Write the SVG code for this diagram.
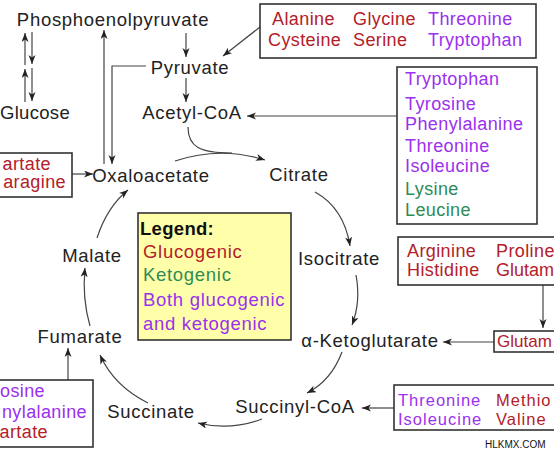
<svg xmlns="http://www.w3.org/2000/svg" width="554" height="453" viewBox="0 0 554 453">
<defs>
<marker id="ah" markerUnits="userSpaceOnUse" markerWidth="10" markerHeight="8" refX="9" refY="3.5" orient="auto">
<path d="M0,0 L9,3.5 L0,7 L2.5,3.5 z" fill="#222"/>
</marker>
<style>
.lbl{font-family:"Liberation Sans",Arial,sans-serif;font-size:18.5px;letter-spacing:0.7px;fill:#222}
.aa{font-family:"Liberation Sans",Arial,sans-serif;font-size:18px;letter-spacing:0.4px}
.t{letter-spacing:0px}
.s{font-size:16.5px;letter-spacing:1px}
.r{fill:#b3202a}.p{fill:#9b30ee}.g{fill:#2e8b57}
.box{fill:#fff;stroke:#333;stroke-width:1.6}
.c{fill:none;stroke:#444;stroke-width:1.2;marker-end:url(#ah)}
.cn{fill:none;stroke:#444;stroke-width:1.2}
</style>
</defs>
<rect width="554" height="453" fill="#fff"/>

<g id="connectors">
<path class="c" d="M25,65 L25,33"/>
<path class="c" d="M32,32 L32,64"/>
<path class="c" d="M25,102 L25,69"/>
<path class="c" d="M32,68 L32,101"/>
<path class="c" d="M104,164 L104,30"/>
<path class="c" d="M146,66 L112,66 L112,164"/>
<path class="c" d="M186,33 L186,57"/>
<path class="c" d="M186,78 L186,102"/>
<path class="c" d="M260,27 L223,56"/>
<path class="c" d="M397,116 L247,116"/>
<path class="c" d="M175,161 Q220,146 265,160"/>
<path class="cn" d="M188,127 C188,147 200,153 232,153"/>
<path class="c" d="M315,192 Q344,208 350,246"/>
<path class="c" d="M356,275 Q361,302 352,325"/>
<path class="c" d="M342,352 Q331,381 307,393"/>
<path class="c" d="M262,419 Q230,431 198,423"/>
<path class="c" d="M148,403 Q114,386 100,355"/>
<path class="c" d="M90,326 Q82,298 85,268"/>
<path class="c" d="M97,238 Q107,207 128,190"/>
<path class="c" d="M72,174 L93,174"/>
<path class="c" d="M543,285 L543,328"/>
<path class="c" d="M494,342 L443,342"/>
<path class="c" d="M394,408 L362,408"/>
<path class="c" d="M68,380 L68,348"/>
</g>

<g id="phosphoenolpyruvate"><text class="lbl" x="113" y="26" text-anchor="middle">Phosphoenolpyruvate</text></g>
<g id="glucose"><text class="lbl" x="0" y="119" style="letter-spacing:0.3px">Glucose</text></g>
<g id="pyruvate"><text class="lbl" x="190" y="74" text-anchor="middle">Pyruvate</text></g>
<g id="acetylcoa"><text class="lbl" x="192" y="119" text-anchor="middle">Acetyl-CoA</text></g>
<g id="oxaloacetate"><text class="lbl" x="151" y="182" text-anchor="middle">Oxaloacetate</text></g>
<g id="citrate"><text class="lbl" x="299" y="181" text-anchor="middle">Citrate</text></g>
<g id="isocitrate"><text class="lbl" x="339" y="265" text-anchor="middle">Isocitrate</text></g>
<g id="alphaketoglutarate"><text class="lbl" x="370" y="347" text-anchor="middle">α-Ketoglutarate</text></g>
<g id="succinylcoa"><text class="lbl" x="295" y="413" text-anchor="middle">Succinyl-CoA</text></g>
<g id="succinate"><text class="lbl" x="151" y="418" text-anchor="middle">Succinate</text></g>
<g id="fumarate"><text class="lbl" x="80" y="343" text-anchor="middle">Fumarate</text></g>
<g id="malate"><text class="lbl" x="92" y="262" text-anchor="middle">Malate</text></g>

<g id="box-pyruvate-aa">
<rect class="box" x="260" y="4" width="276" height="54"/>
<text class="aa r" x="272" y="25">Alanine</text>
<text class="aa r" x="353" y="25">Glycine</text>
<text class="aa p" x="428" y="25">Threonine</text>
<text class="aa r" x="268" y="46">Cysteine</text>
<text class="aa r" x="353" y="46">Serine</text>
<text class="aa p" x="428" y="46">Tryptophan</text>
</g>

<g id="box-acetylcoa-aa">
<rect class="box" x="397" y="67" width="140" height="157"/>
<text class="aa p" x="405" y="85">Tryptophan</text>
<text class="aa p" x="405" y="110">Tyrosine</text>
<text class="aa p" x="405" y="130">Phenylalanine</text>
<text class="aa p" x="405" y="152">Threonine</text>
<text class="aa p" x="405" y="172">Isoleucine</text>
<text class="aa g" x="405" y="195">Lysine</text>
<text class="aa g" x="405" y="216">Leucine</text>
</g>

<g id="box-oxaloacetate-aa">
<rect class="box" x="-10" y="153" width="82" height="44"/>
<text class="aa r" x="51" y="170" text-anchor="end">artate</text>
<text class="aa r" x="66" y="188" text-anchor="end">aragine</text>
</g>

<g id="box-glutamate-aa">
<rect class="box" x="398" y="237" width="170" height="48"/>
<text class="aa r" x="407" y="257">Arginine</text>
<text class="aa r" x="496" y="257">Proline</text>
<text class="aa r" x="407" y="276">Histidine</text>
<text class="aa r t" x="496" y="276">Glutam</text>
</g>

<g id="box-glutamine">
<rect class="box" x="494" y="331" width="80" height="21"/>
<text class="aa r t" x="497" y="347" style="font-size:17px">Glutam</text>
</g>

<g id="box-succinylcoa-aa">
<rect class="box" x="394" y="385" width="180" height="45"/>
<text class="aa p s" x="398" y="406">Threonine</text>
<text class="aa r s" x="496" y="406">Methio</text>
<text class="aa p s" x="398" y="425">Isoleucine</text>
<text class="aa r s" x="496" y="425">Valine</text>
</g>

<g id="box-fumarate-aa">
<rect class="box" x="-10" y="380" width="103" height="67"/>
<text class="aa p" x="0" y="397">osine</text>
<text class="aa p" x="87" y="418" text-anchor="end">nylalanine</text>
<text class="aa r" x="48" y="438" text-anchor="end">artate</text>
</g>

<g id="legend">
<rect x="138" y="213" width="153" height="127" fill="#ffffaa" stroke="#333" stroke-width="1.6"/>
<text class="lbl" x="140" y="235" style="font-weight:bold;letter-spacing:0.3px;fill:#111">Legend:</text>
<text class="lbl r" x="143" y="258">Glucogenic</text>
<text class="lbl g" x="143" y="281">Ketogenic</text>
<text class="lbl p" x="143" y="306">Both glucogenic</text>
<text class="lbl p" x="143" y="330">and ketogenic</text>
</g>

<text x="485" y="448" font-family="Liberation Sans, Arial, sans-serif" font-size="10" fill="#111">HLKMX.COM</text>
</svg>
